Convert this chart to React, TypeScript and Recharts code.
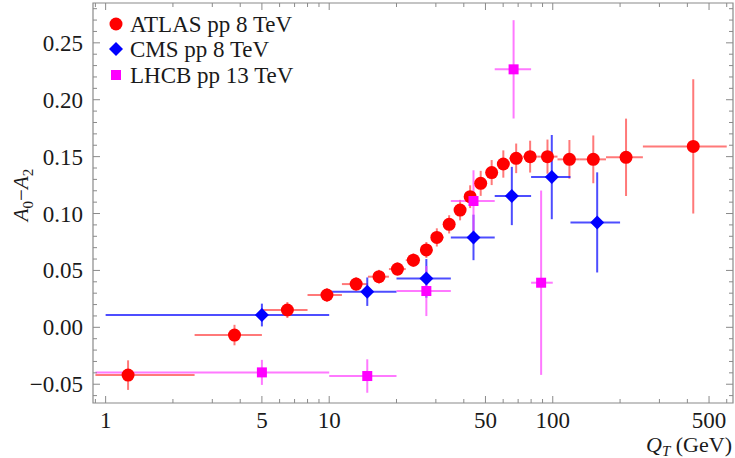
import React from 'react';
import { ScatterChart, Scatter, XAxis, YAxis, ErrorBar, ReferenceArea } from 'recharts';

// ATLAS pp 8 TeV
const atlasQt = [1.26, 3.77, 6.5, 9.77, 13.2, 16.7, 20.2, 23.8, 27.2, 30.3, 34.4, 38.5, 42.7, 47.6, 53.3, 60.1, 68.6, 79.2, 94.7, 118.7, 151.8, 212.7, 425];
const atlasVal = [-0.042, -0.0068, 0.0152, 0.0284, 0.038, 0.0445, 0.0512, 0.059, 0.068, 0.079, 0.0905, 0.103, 0.1148, 0.1265, 0.136, 0.1435, 0.1485, 0.15, 0.15, 0.1476, 0.1476, 0.1494, 0.159];
const atlasLo = [0.9, 2.5, 5, 8, 11.4, 14.9, 18.5, 22, 25.5, 29, 32.6, 36.4, 40.4, 44.9, 50.2, 56.4, 63.9, 73.4, 85.4, 105, 132, 173, 253];
const atlasHi = [2.5, 5, 8, 11.4, 14.9, 18.5, 22, 25.5, 29, 32.6, 36.4, 40.4, 44.9, 50.2, 56.4, 63.9, 73.4, 85.4, 105, 132, 173, 253, 600];
const atlasErr = [0.013, 0.009, 0.007, 0.006, 0.006, 0.006, 0.006, 0.006, 0.007, 0.008, 0.008, 0.009, 0.01, 0.011, 0.011, 0.012, 0.013, 0.014, 0.015, 0.017, 0.021, 0.034, 0.059];

// CMS pp 8 TeV
const cmsQt = [5, 14.8, 27.2, 44.2, 65.6, 99, 158];
const cmsVal = [0.0108, 0.0313, 0.043, 0.079, 0.1154, 0.132, 0.0922];
const cmsLo = [1, 10, 20, 35, 55, 80, 120];
const cmsHi = [10, 20, 35, 55, 80, 120, 200];
const cmsErr = [0.01, 0.0125, 0.017, 0.02, 0.0256, 0.037, 0.044];

// LHCb pp 13 TeV
const lhcbQt = [5, 14.8, 27.2, 44.2, 66.8, 88.7];
const lhcbVal = [-0.0396, -0.0428, 0.0319, 0.111, 0.2267, 0.0392];
const lhcbLo = [0.9, 10, 20, 35, 55, 80];
const lhcbHi = [10, 20, 35, 55, 80, 100];
const lhcbErr = [0.011, 0.0147, 0.022, 0.027, 0.0432, 0.081];

const xMajor = [1, 5, 10, 50, 100, 500];
const xMinor = [0.9, 2, 3, 4, 6, 7, 8, 9, 20, 30, 40, 60, 70, 80, 90, 200, 300, 400, 600];
const yMajor = [-0.05, 0, 0.05, 0.1, 0.15, 0.2, 0.25];
const yLabels = ['\u22120.05', '0.00', '0.05', '0.10', '0.15', '0.20', '0.25'];

const X_DOMAIN: [number, number] = [0.878, 640];
const Y_DOMAIN: [number, number] = [-0.0665, 0.285];

const W = 735;
const H = 458;
const TOP = 3;
const BOTTOM = 403;
const LEFT = 93;
const RIGHT = 733;

const FONT = '"Liberation Serif", "Times New Roman", serif';
const FRAME = '#8a8a8a';
const TEXT = '#1a1a1a';
const FS = 23;

function build(qt: number[], val: number[], lo: number[], hi: number[], err: number[]) {
  return qt.map((q, i) => ({ q, v: val[i], ex: [q - lo[i], hi[i] - q], ey: err[i] }));
}

const atlas = build(atlasQt, atlasVal, atlasLo, atlasHi, atlasErr);
const cms = build(cmsQt, cmsVal, cmsLo, cmsHi, cmsErr);
const lhcb = build(lhcbQt, lhcbVal, lhcbLo, lhcbHi, lhcbErr);

const yMinor: number[] = [];
for (let i = -6; i <= 28; i++) yMinor.push(i / 100);

function XTick(props: any) {
  const { x, payload } = props;
  const v = payload.value;
  const idx = xMajor.indexOf(v);
  const len = idx >= 0 ? 7 : 4;
  return (
    <g>
      <line x1={x} y1={BOTTOM} x2={x} y2={BOTTOM - len} stroke={FRAME} />
      <line x1={x} y1={TOP} x2={x} y2={TOP + len} stroke={FRAME} />
      {idx >= 0 && (
        <text x={x} y={BOTTOM + 25} textAnchor="middle" fontSize={FS} fontFamily={FONT} fill={TEXT}>
          {String(v)}
        </text>
      )}
    </g>
  );
}

function YTick(props: any) {
  const { y, payload } = props;
  const v = payload.value;
  const idx = yMajor.findIndex((m) => Math.abs(m - v) < 1e-9);
  const len = idx >= 0 ? 7 : 4;
  return (
    <g>
      <line x1={LEFT} y1={y} x2={LEFT + len} y2={y} stroke={FRAME} />
      <line x1={RIGHT} y1={y} x2={RIGHT - len} y2={y} stroke={FRAME} />
      {idx >= 0 && (
        <text x={LEFT - 10} y={y} dy="0.35em" textAnchor="end" fontSize={FS} fontFamily={FONT} fill={TEXT}>
          {yLabels[idx]}
        </text>
      )}
    </g>
  );
}

const Dot = (p: any) => <circle cx={p.cx} cy={p.cy} r={6.5} fill="#ff0000" />;
const Diamond = (p: any) => (
  <polygon points={`${p.cx},${p.cy - 7} ${p.cx + 7},${p.cy} ${p.cx},${p.cy + 7} ${p.cx - 7},${p.cy}`} fill="#0000ff" />
);
const Square = (p: any) => <rect x={p.cx - 5} y={p.cy - 5} width={10} height={10} fill="#ff00ff" />;

export default function App() {
  return (
    <div style={{ position: 'absolute', left: 0, top: 0, width: W, height: H, background: '#fff' }}>
      <ScatterChart width={W} height={H} margin={{ top: TOP, right: W - RIGHT, bottom: 0, left: 0 }}>
        <XAxis
          type="number"
          dataKey="q"
          scale="log"
          domain={X_DOMAIN}
          allowDataOverflow
          ticks={[...xMinor, ...xMajor].sort((a, b) => a - b)}
          interval={0}
          tick={<XTick />}
          tickLine={false}
          tickSize={0}
          tickMargin={0}
          axisLine={false}
          height={H - BOTTOM}
        />
        <YAxis
          type="number"
          dataKey="v"
          domain={Y_DOMAIN}
          allowDataOverflow
          ticks={yMinor}
          interval={0}
          tick={<YTick />}
          tickLine={false}
          tickSize={0}
          tickMargin={0}
          axisLine={false}
          width={LEFT}
        />
        <ReferenceArea
          x1={X_DOMAIN[0]}
          x2={X_DOMAIN[1]}
          y1={Y_DOMAIN[0]}
          y2={Y_DOMAIN[1]}
          fill="none"
          fillOpacity={0}
          stroke={FRAME}
          strokeWidth={1.2}
          ifOverflow="visible"
        />
        <Scatter name="ATLAS pp 8 TeV" data={atlas} shape={Dot} isAnimationActive={false}>
          <ErrorBar dataKey="ex" direction="x" width={0} stroke="#ff4040" strokeOpacity={0.7} strokeWidth={2} isAnimationActive={false} />
          <ErrorBar dataKey="ey" direction="y" width={0} stroke="#ff4040" strokeOpacity={0.7} strokeWidth={2} isAnimationActive={false} />
        </Scatter>
        <Scatter name="CMS pp 8 TeV" data={cms} shape={Diamond} isAnimationActive={false}>
          <ErrorBar dataKey="ex" direction="x" width={0} stroke="#2020ff" strokeOpacity={0.8} strokeWidth={2} isAnimationActive={false} />
          <ErrorBar dataKey="ey" direction="y" width={0} stroke="#2020ff" strokeOpacity={0.8} strokeWidth={2} isAnimationActive={false} />
        </Scatter>
        <Scatter name="LHCB pp 13 TeV" data={lhcb} shape={Square} isAnimationActive={false}>
          <ErrorBar dataKey="ex" direction="x" width={0} stroke="#ff40ff" strokeOpacity={0.7} strokeWidth={2} isAnimationActive={false} />
          <ErrorBar dataKey="ey" direction="y" width={0} stroke="#ff40ff" strokeOpacity={0.7} strokeWidth={2} isAnimationActive={false} />
        </Scatter>
      </ScatterChart>
      <svg width={W} height={H} style={{ position: 'absolute', left: 0, top: 0, pointerEvents: 'none' }} fontFamily={FONT}>
        <g fontSize={FS} fill={TEXT}>
          <circle cx={116} cy={24} r={6.5} fill="#ff0000" />
          <text x={130} y={24} dy="0.35em">ATLAS pp 8 TeV</text>
          <polygon points="116,42 123,49 116,56 109,49" fill="#0000ff" />
          <text x={130} y={49} dy="0.35em">CMS pp 8 TeV</text>
          <rect x={111} y={70} width={10} height={10} fill="#ff00ff" />
          <text x={130} y={75} dy="0.35em">LHCB pp 13 TeV</text>
        </g>
        <text transform="translate(28,195) rotate(-90)" textAnchor="middle" fontSize={21} fill={TEXT}>
          <tspan fontStyle="italic">A</tspan>
          <tspan fontSize={15} dy={5}>0</tspan>
          <tspan dy={-5}>{'\u2212'}</tspan>
          <tspan fontStyle="italic">A</tspan>
          <tspan fontSize={15} dy={5}>2</tspan>
        </text>
        <text x={732} y={452} textAnchor="end" fontSize={22} fill={TEXT}>
          <tspan fontStyle="italic">Q</tspan>
          <tspan fontStyle="italic" fontSize={15} dy={4}>T</tspan>
          <tspan dy={-4}> (GeV)</tspan>
        </text>
      </svg>
    </div>
  );
}
